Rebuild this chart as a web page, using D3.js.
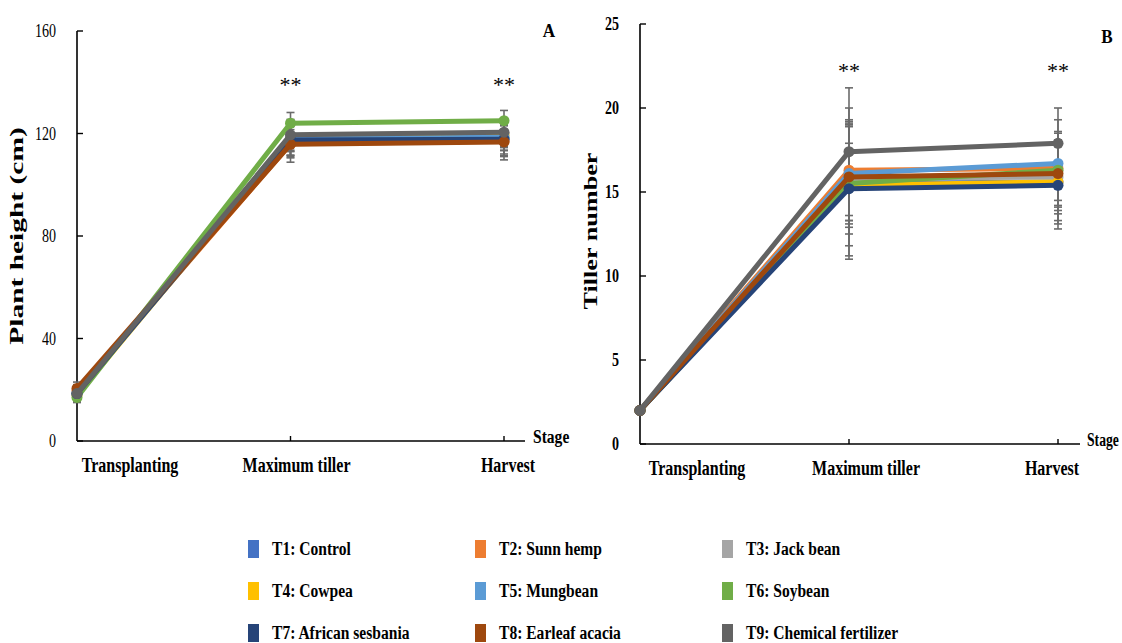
<!DOCTYPE html>
<html>
<head>
<meta charset="utf-8">
<script src="https://cdn.jsdelivr.net/npm/d3@7"></script>
<style>
  html, body { margin: 0; padding: 0; background: #fff; }
  svg { display: block; }
  text { font-family: "Liberation Serif", "Times New Roman", serif; fill: #000; }
</style>
</head>
<body>
<svg id="chart" width="1122" height="643"></svg>
<script>
// Growth stages on the category axis
const stages = ["Transplanting", "Maximum tiller", "Harvest"];

// Treatments and their series colours
const treatments = [
  "T1: Control", "T2: Sunn hemp", "T3: Jack bean",
  "T4: Cowpea", "T5: Mungbean", "T6: Soybean",
  "T7: African sesbania", "T8: Earleaf acacia", "T9: Chemical fertilizer"
];
const colors = ["#4472C4", "#ED7D31", "#A5A5A5", "#FFC000", "#5B9BD5",
                "#70AD47", "#264478", "#9E480E", "#636363"];

// Plant height (cm): mean per treatment at each stage
const heightMean = [
  [18.5, 117.5, 118.0],
  [19.5, 116.0, 117.0],
  [18.5, 119.0, 120.0],
  [18.0, 118.0, 119.3],
  [18.5, 118.0, 118.5],
  [17.0, 124.0, 125.0],
  [18.5, 117.5, 117.8],
  [20.5, 115.8, 116.7],
  [18.5, 119.5, 120.5]
];
// Plant height standard deviation
const heightSD = [
  [2.5, 6.0, 6.0],
  [2.5, 5.5, 6.0],
  [2.5, 6.0, 5.5],
  [2.5, 6.5, 6.0],
  [2.5, 5.0, 5.0],
  [2.0, 4.2, 4.0],
  [2.5, 6.5, 6.5],
  [2.5, 7.0, 7.0],
  [2.5, 6.0, 5.5]
];

// Tiller number: mean per treatment at each stage
const tillerMean = [
  [2.0, 15.5, 15.6],
  [2.0, 16.3, 16.4],
  [2.0, 15.8, 15.9],
  [2.0, 15.4, 15.6],
  [2.0, 16.1, 16.7],
  [2.0, 15.5, 16.3],
  [2.0, 15.2, 15.4],
  [2.0, 15.9, 16.1],
  [2.0, 17.4, 17.9]
];
// Tiller number standard deviation
const tillerSD = [
  [0.2, 4.5, 2.3],
  [0.2, 3.0, 2.2],
  [0.2, 3.3, 2.0],
  [0.2, 3.6, 2.5],
  [0.2, 2.8, 2.6],
  [0.2, 2.4, 1.8],
  [0.2, 4.0, 2.6],
  [0.2, 3.0, 2.4],
  [0.2, 3.8, 2.1]
];

// Axis tick values
const heightTicks = [0, 40, 80, 120, 160];
const tillerTicks = [0, 5, 10, 15, 20, 25];

// Significance marks per stage
const significance = ["", "**", "**"];

const svg = d3.select("#chart");
const SQ = 0.8;  // horizontal condensing of the serif lettering

function hText(g, x, y, str, opts = {}) {
  return g.append("text")
    .attr("transform", `translate(${x},${y}) scale(${opts.sx || SQ},1)`)
    .attr("text-anchor", opts.anchor || "middle")
    .attr("font-size", opts.size || 18)
    .attr("font-weight", opts.weight || "bold")
    .text(str);
}

function drawPanel(cfg) {
  const g = svg.append("g");
  const x = d3.scalePoint().domain(stages).range(cfg.xRange);
  const y = d3.scaleLinear().domain(cfg.yDomain).range(cfg.yRange);
  const x0 = cfg.xRange[0];
  const yBase = y(0);

  // y axis: line with inward ticks
  g.append("line").attr("x1", x0).attr("x2", x0)
    .attr("y1", y(cfg.yDomain[1])).attr("y2", yBase)
    .attr("stroke", "#000").attr("stroke-width", 1.6);
  cfg.ticks.forEach(t => {
    g.append("line").attr("x1", x0).attr("x2", x0 + 6)
      .attr("y1", y(t)).attr("y2", y(t))
      .attr("stroke", "#000").attr("stroke-width", 1.4);
    hText(g, x0 - 21, y(t) + 6, t, { anchor: "end", size: 18, weight: cfg.tickWeight, sx: 0.78 });
  });

  // x axis: line with upward ticks at each stage
  g.append("line").attr("x1", x0).attr("x2", cfg.xAxisEnd)
    .attr("y1", yBase).attr("y2", yBase)
    .attr("stroke", "#000").attr("stroke-width", 1.6);
  stages.forEach((s, i) => {
    if (i > 0) {
      g.append("line").attr("x1", x(s)).attr("x2", x(s))
        .attr("y1", yBase).attr("y2", yBase - 5)
        .attr("stroke", "#000").attr("stroke-width", 1.4);
    }
    hText(g, x(s) + cfg.labelShift[i], yBase + 31, s, { size: 20 });
  });
  hText(g, cfg.stageX, yBase + 2, "Stage", { anchor: "start", size: 19, sx: cfg.stageSX });

  // y axis title, drawn rotated and stretched along its baseline
  g.append("text")
    .attr("transform", `translate(${cfg.titleX},${(y(cfg.yDomain[1]) + yBase) / 2 + cfg.titleDY}) rotate(-90) scale(${cfg.titleStretch},1)`)
    .attr("text-anchor", "middle")
    .attr("font-size", 19)
    .attr("font-weight", "bold")
    .text(cfg.title);

  // panel letter
  hText(g, cfg.letterPos[0], cfg.letterPos[1], cfg.letter, { size: 19, sx: 0.9 });

  // significance marks above stages
  stages.forEach((s, i) => {
    if (significance[i]) {
      hText(g, x(s), cfg.starY, significance[i], { size: 22, weight: "normal", sx: 1 });
    }
  });

  const mean = cfg.mean, sd = cfg.sd;

  // error bars
  const eb = g.append("g").attr("stroke", "#6b6b6b").attr("stroke-width", 1.6);
  treatments.forEach((t, k) => {
    stages.forEach((s, i) => {
      const lo = y(mean[k][i] - sd[k][i]), hi = y(mean[k][i] + sd[k][i]), cx = x(s);
      eb.append("line").attr("x1", cx).attr("x2", cx).attr("y1", lo).attr("y2", hi);
      eb.append("line").attr("x1", cx - 4).attr("x2", cx + 4).attr("y1", lo).attr("y2", lo);
      eb.append("line").attr("x1", cx - 4).attr("x2", cx + 4).attr("y1", hi).attr("y2", hi);
    });
  });

  // series lines and markers
  const line = d3.line().x((d, i) => x(stages[i])).y(d => y(d));
  treatments.forEach((t, k) => {
    g.append("path").datum(mean[k])
      .attr("d", line)
      .attr("fill", "none")
      .attr("stroke", colors[k])
      .attr("stroke-width", 5)
      .attr("stroke-linejoin", "round");
    g.selectAll(null).data(mean[k]).enter().append("circle")
      .attr("cx", (d, i) => x(stages[i]))
      .attr("cy", d => y(d))
      .attr("r", 5.5)
      .attr("fill", colors[k]);
  });
}

drawPanel({
  xRange: [77, 504], yDomain: [0, 160], yRange: [441, 31],
  ticks: heightTicks, tickWeight: "normal",
  xAxisEnd: 525, labelShift: [53, 6, 4],
  stageX: 533, stageSX: 0.82,
  title: "Plant height (cm)", titleX: 23, titleDY: 0, titleStretch: 1.55,
  letter: "A", letterPos: [549, 37], starY: 92,
  mean: heightMean, sd: heightSD
});

drawPanel({
  xRange: [640, 1058], yDomain: [0, 25], yRange: [444, 24],
  ticks: tillerTicks, tickWeight: "bold",
  xAxisEnd: 1080, labelShift: [57, 17, -6],
  stageX: 1087, stageSX: 0.72,
  title: "Tiller number", titleX: 597, titleDY: -3, titleStretch: 1.38,
  letter: "B", letterPos: [1107, 43], starY: 78,
  mean: tillerMean, sd: tillerSD
});

// legend: three columns by three rows
const legend = svg.append("g");
const colX = [248, 475, 722];
const rowY = [549, 591, 633];
treatments.forEach((t, k) => {
  const cx = colX[k % 3], cy = rowY[Math.floor(k / 3)];
  legend.append("rect").attr("x", cx).attr("y", cy - 9)
    .attr("width", 11).attr("height", 18).attr("fill", colors[k]);
  hText(legend, cx + 24, cy + 6, t, { anchor: "start", size: 19, sx: 0.82 });
});
</script>
</body>
</html>
